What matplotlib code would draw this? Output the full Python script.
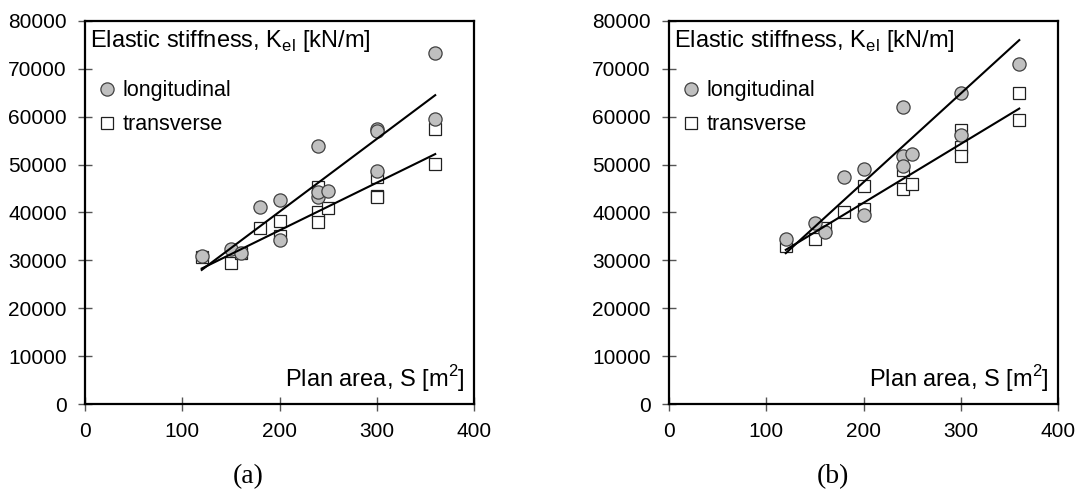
import numpy as np
import matplotlib.pyplot as plt

# plan area S [m2] and elastic stiffness Kel [kN/m], panel (a)
S_long_a = [120, 150, 160, 180, 200, 200, 240, 240, 240, 250, 300, 300, 300, 360, 360]
K_long_a = [30900, 32300, 31600, 41200, 42700, 34200, 53900, 43300, 44200, 44500, 57500, 57000, 48700, 73300, 59600]
S_tran_a = [120, 150, 160, 180, 200, 200, 240, 240, 240, 250, 300, 300, 300, 360, 360]
K_tran_a = [30600, 29500, 31500, 36700, 38200, 35000, 45400, 40100, 38100, 41000, 47500, 43400, 43200, 57400, 50100]

# panel (b)
S_long_b = [120, 150, 160, 180, 200, 200, 240, 240, 240, 250, 300, 300, 360]
K_long_b = [34400, 37900, 36000, 47500, 49100, 39400, 62100, 51800, 49800, 52200, 64900, 56200, 71100]
S_tran_b = [120, 150, 160, 180, 200, 200, 240, 240, 250, 300, 300, 300, 360, 360]
K_tran_b = [33000, 34500, 36700, 40000, 45600, 40800, 48800, 44800, 45900, 57300, 53700, 51900, 65000, 59300]

# fitted trend lines (end points)
fit_S = [120, 360]
fit_long_a = [28000, 64500]
fit_tran_a = [28300, 52200]
fit_long_b = [31500, 76000]
fit_tran_b = [32200, 61700]

plt.rcParams['font.family'] = ['Liberation Sans', 'DejaVu Sans']

fig = plt.figure(figsize=(10.81, 4.93), dpi=100)
ax_a = fig.add_axes([0.0786, 0.1805, 0.360, 0.777])
ax_b = fig.add_axes([0.6189, 0.1805, 0.360, 0.777])

panels = [
    (ax_a, S_long_a, K_long_a, S_tran_a, K_tran_a, fit_long_a, fit_tran_a, '(a)'),
    (ax_b, S_long_b, K_long_b, S_tran_b, K_tran_b, fit_long_b, fit_tran_b, '(b)'),
]

for ax, sl, kl, st, kt, fl, ft, tag in panels:
    ax.plot(st, kt, 's', ms=9, mfc='white', mec='#202020', mew=0.9,
            label='transverse', zorder=3)
    ax.plot(sl, kl, 'o', ms=9.5, mfc='#c0c0c0', mec='#404040', mew=0.9,
            label='longitudinal', zorder=4)
    ax.plot(fit_S, fl, color='black', lw=1.5, zorder=5)
    ax.plot(fit_S, ft, color='black', lw=1.5, zorder=5)

    ax.set_xlim(0, 400)
    ax.set_ylim(0, 80000)
    ax.set_xticks(np.arange(0, 401, 100))
    ax.set_yticks(np.arange(0, 80001, 10000))
    ax.tick_params(direction='inout', length=10, width=1, color='#555555',
                   labelsize=15, pad=8)
    for sp in ax.spines.values():
        sp.set_linewidth(1.6)

    ax.text(0.012, 0.947, 'Elastic stiffness, K$_{\\mathregular{el}}$ [kN/m]',
            transform=ax.transAxes, fontsize=17, va='center', ha='left')
    ax.text(0.977, 0.067, 'Plan area, S [m$^{\\mathregular{2}}$]',
            transform=ax.transAxes, fontsize=17, va='center', ha='right')

    h, l = ax.get_legend_handles_labels()
    ax.legend(h[::-1], l[::-1], loc='upper left', bbox_to_anchor=(0.006, 0.868),
              frameon=False, fontsize=15.5, handletextpad=0.25,
              handlelength=1.0, labelspacing=0.62, borderaxespad=0)

    ax.text(0.42, -0.19, tag, transform=ax.transAxes, fontsize=20,
            family='Liberation Serif', ha='center', va='center')

fig.savefig('out.png', dpi=100)
